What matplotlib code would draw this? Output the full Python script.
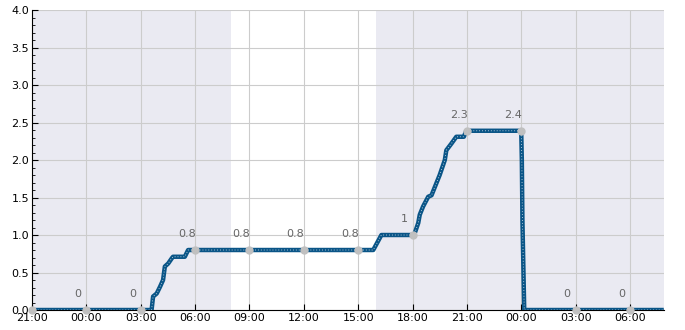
import matplotlib
matplotlib.use('Agg')
import matplotlib.pyplot as plt
import matplotlib.dates as mdates
from matplotlib.ticker import MultipleLocator
import pandas as pd

# level series
times = ['2024-01-01 21:00', '2024-01-02 03:36', '2024-01-02 03:41', '2024-01-02 03:53',
         '2024-01-02 04:04', '2024-01-02 04:14', '2024-01-02 04:20', '2024-01-02 04:31',
         '2024-01-02 04:43', '2024-01-02 04:47', '2024-01-02 05:26', '2024-01-02 05:37',
         '2024-01-02 15:50', '2024-01-02 16:17', '2024-01-02 18:00', '2024-01-02 18:07',
         '2024-01-02 18:19', '2024-01-02 18:24', '2024-01-02 18:35', '2024-01-02 18:52',
         '2024-01-02 19:03', '2024-01-02 19:14', '2024-01-02 19:30', '2024-01-02 19:47',
         '2024-01-02 19:52', '2024-01-02 20:09', '2024-01-02 20:25', '2024-01-02 20:50',
         '2024-01-02 20:58', '2024-01-03 00:00', '2024-01-03 00:02', '2024-01-03 00:04',
         '2024-01-03 00:08', '2024-01-03 00:10', '2024-01-03 07:52']
values = [0.0, 0.0, 0.18, 0.22,
          0.31, 0.40, 0.58, 0.62,
          0.69, 0.71, 0.71, 0.80,
          0.80, 1.00, 1.00, 1.02,
          1.16, 1.27, 1.38, 1.51,
          1.53, 1.64, 1.80, 2.00,
          2.13, 2.22, 2.31, 2.31,
          2.39, 2.39, 2.00, 1.20,
          0.40, 0.0, 0.0]

# 3-hourly readings
mark_times = ['2024-01-01 21:00', '2024-01-02 00:00', '2024-01-02 03:00', '2024-01-02 06:00',
              '2024-01-02 09:00', '2024-01-02 12:00', '2024-01-02 15:00', '2024-01-02 18:00',
              '2024-01-02 21:00', '2024-01-03 00:00', '2024-01-03 03:00', '2024-01-03 06:00']
mark_values = [0.0, 0.0, 0.0, 0.8, 0.8, 0.8, 0.8, 1.0, 2.39, 2.39, 0.0, 0.0]
mark_labels = ['', '0', '0', '0.8', '0.8', '0.8', '0.8', '1', '2.3', '2.4', '0', '0']

# shaded periods
shade_spans = [('2024-01-01 21:00', '2024-01-02 08:00'),
               ('2024-01-02 16:00', '2024-01-03 08:00')]

t = pd.to_datetime(times)
mt = pd.to_datetime(mark_times)

fig = plt.figure(figsize=(6.85, 3.3), dpi=100)
ax = fig.add_axes([0.0467, 0.0606, 0.9223, 0.909])

for a, b in shade_spans:
    ax.axvspan(pd.Timestamp(a), pd.Timestamp(b), color='#eaeaf2', lw=0, zorder=0)

ax.grid(True, color='#cccccc', lw=0.8, zorder=1)
ax.set_axisbelow(True)

ax.plot(t, values, color='#0a5587', lw=3.2, solid_capstyle='butt', zorder=3)
ax.plot(t, values, color='#dde8f0', lw=0.6, ls=(0, (1, 2.5)), zorder=4)

ax.plot(mt, mark_values, ls='none', marker='o', ms=5, color='#c0c0c0', zorder=5, clip_on=False)
for x, y, lab in zip(mt, mark_values, mark_labels):
    if lab:
        ax.annotate(lab, (x, y), xytext=(-6, 8), textcoords='offset points',
                    ha='center', va='bottom', fontsize=8, color='#666666')

ax.set_xlim(t[0], t[-1])
ax.set_ylim(0, 4)
ax.yaxis.set_major_locator(MultipleLocator(0.5))
ax.yaxis.set_minor_locator(MultipleLocator(0.1))
ax.yaxis.set_major_formatter(matplotlib.ticker.FormatStrFormatter('%.1f'))
ax.xaxis.set_major_locator(mdates.HourLocator(byhour=range(0, 24, 3)))
ax.xaxis.set_major_formatter(mdates.DateFormatter('%H:%M'))

ax.tick_params(axis='both', direction='in', labelsize=8, length=4, pad=2)
ax.tick_params(axis='y', which='minor', direction='in', length=2)
for s in ('top', 'right'):
    ax.spines[s].set_visible(False)

fig.savefig('out.png', dpi=100)
